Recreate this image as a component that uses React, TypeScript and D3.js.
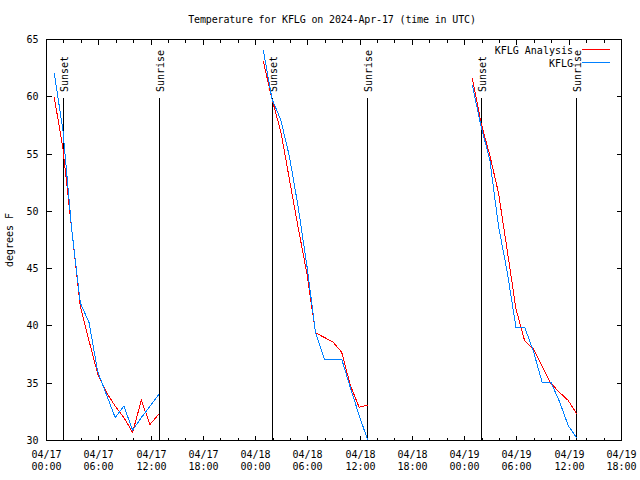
import React from "react";
import * as d3 from "d3";

const TITLE = "Temperature for KFLG on 2024-Apr-17 (time in UTC)";
const Y_LABEL = "degrees F";
const SERIES_NAMES = ["KFLG Analysis", "KFLG"];
const SERIES_COLORS = ["#ff0000", "#0080ff"];

const Y_TICKS = [30, 35, 40, 45, 50, 55, 60, 65];

const TIMES_DAY1 = [
  "2024-04-17 00:53", "2024-04-17 01:53", "2024-04-17 02:53", "2024-04-17 03:53",
  "2024-04-17 04:53", "2024-04-17 05:53", "2024-04-17 06:53", "2024-04-17 07:53",
  "2024-04-17 08:53", "2024-04-17 09:53", "2024-04-17 10:53", "2024-04-17 11:53",
  "2024-04-17 12:53",
];
const TIMES_DAY2 = [
  "2024-04-18 00:53", "2024-04-18 01:53", "2024-04-18 02:53", "2024-04-18 03:53",
  "2024-04-18 04:53", "2024-04-18 05:53", "2024-04-18 06:53", "2024-04-18 07:53",
  "2024-04-18 08:53", "2024-04-18 09:53", "2024-04-18 10:53", "2024-04-18 11:53",
  "2024-04-18 12:53",
];
const TIMES_DAY3 = [
  "2024-04-19 00:53", "2024-04-19 01:53", "2024-04-19 02:53", "2024-04-19 03:53",
  "2024-04-19 04:53", "2024-04-19 05:53", "2024-04-19 06:53", "2024-04-19 07:53",
  "2024-04-19 08:53", "2024-04-19 09:53", "2024-04-19 10:53", "2024-04-19 11:53",
  "2024-04-19 12:53",
];

const ANALYSIS_DAY1 = [60.0, 55.5, 48.5, 41.7, 38.7, 35.8, 34.2, 33.0, 32.0, 30.7, 33.5, 31.4, 32.3];
const ANALYSIS_DAY2 = [63.1, 59.8, 57.0, 52.8, 48.6, 44.6, 39.4, 39.0, 38.6, 37.7, 34.8, 32.9, 33.1];
const ANALYSIS_DAY3 = [61.6, 57.7, 54.9, 51.6, 46.6, 41.5, 38.7, 38.0, 36.5, 35.0, 34.2, 33.5, 32.3];

const OBS_DAY1 = [62.1, 57.1, 48.5, 42.0, 40.3, 36.0, 34.0, 32.0, 33.0, 30.9, 32.0, 33.0, 34.0];
const OBS_DAY2 = [64.1, 59.8, 58.0, 54.8, 50.4, 45.3, 39.4, 37.1, 37.1, 37.1, 34.6, 32.2, 30.0];
const OBS_DAY3 = [61.0, 57.4, 54.5, 48.7, 44.7, 39.9, 39.9, 37.8, 35.1, 35.1, 33.4, 31.3, 30.2];

const SUN_EVENTS = [
  { label: "Sunset", time: "2024-04-17 01:57" },
  { label: "Sunrise", time: "2024-04-17 12:58" },
  { label: "Sunset", time: "2024-04-18 01:56" },
  { label: "Sunrise", time: "2024-04-18 12:51" },
  { label: "Sunset", time: "2024-04-19 01:56" },
  { label: "Sunrise", time: "2024-04-19 12:50" },
];

const X_START = "2024-04-17 00:00";
const X_END = "2024-04-19 18:00";

const parse = d3.utcParse("%Y-%m-%d %H:%M");
const FONT = "'DejaVu Sans Mono', monospace";

export default function App() {
  const left = 46.5, right = 621.5, top = 39.5, bottom = 440.5;
  const x = d3.scaleUtc().domain([parse(X_START)!, parse(X_END)!]).range([left, right]);
  const y = d3.scaleLinear().domain([30, 65]).range([bottom, top]);

  const line = d3
    .line<[Date, number]>()
    .x((d) => x(d[0]))
    .y((d) => y(d[1]));

  const mk = (times: string[], vals: number[]) =>
    times.map((t, i) => [parse(t)!, vals[i]] as [Date, number]);

  const analysis = [
    mk(TIMES_DAY1, ANALYSIS_DAY1),
    mk(TIMES_DAY2, ANALYSIS_DAY2),
    mk(TIMES_DAY3, ANALYSIS_DAY3),
  ];
  const obs = [mk(TIMES_DAY1, OBS_DAY1), mk(TIMES_DAY2, OBS_DAY2), mk(TIMES_DAY3, OBS_DAY3)];

  const majorTicks = d3.utcHour.every(6)!.range(parse(X_START)!, d3.utcMinute.offset(parse(X_END)!, 1));
  const minorTicks = d3.utcHour.every(2)!.range(parse(X_START)!, d3.utcMinute.offset(parse(X_END)!, 1))
    .filter((d) => d.getUTCHours() % 6 !== 0);
  const fmtDate = d3.utcFormat("%m/%d");
  const fmtTime = d3.utcFormat("%H:%M");
  const TL = 5;
  const TLm = 3;
  const snap = (v: number) => Math.floor(v) + 0.5;

  return (
    <svg
      width={640}
      height={480}
      style={{ position: "absolute", left: 0, top: 0, background: "#fff" }}
      fontFamily={FONT}
      fontSize={10}
    >
      <rect x={0} y={0} width={640} height={480} fill="#fff" />
      <text x={332} y={23} textAnchor="middle" fill="#000" letterSpacing={-0.15}>{TITLE}</text>

      {/* y ticks */}
      {Y_TICKS.map((v) => {
        const yy = snap(y(v));
        return (
          <g key={v} shapeRendering="crispEdges">
            <line x1={left} x2={left + TL} y1={yy} y2={yy} stroke="#000" />
            <line x1={right - TL} x2={right} y1={yy} y2={yy} stroke="#000" />
            <text x={38.5} y={yy} textAnchor="end" dominantBaseline="central" fill="#000">{v}</text>
          </g>
        );
      })}

      {/* x ticks */}
      {majorTicks.map((d, i) => {
        const xx = snap(x(d));
        return (
          <g key={"M" + i} shapeRendering="crispEdges">
            <line x1={xx} x2={xx} y1={bottom} y2={bottom - TL} stroke="#000" />
            <line x1={xx} x2={xx} y1={top} y2={top + TL} stroke="#000" />
            <text x={xx} y={454} textAnchor="middle" dominantBaseline="central" fill="#000">{fmtDate(d)}</text>
            <text x={xx} y={466} textAnchor="middle" dominantBaseline="central" fill="#000">{fmtTime(d)}</text>
          </g>
        );
      })}
      {minorTicks.map((d, i) => {
        const xx = snap(x(d));
        return (
          <g key={"m" + i} shapeRendering="crispEdges">
            <line x1={xx} x2={xx} y1={bottom} y2={bottom - TLm} stroke="#000" />
            <line x1={xx} x2={xx} y1={top} y2={top + TLm} stroke="#000" />
          </g>
        );
      })}

      {/* y label */}
      <text transform="translate(13,240) rotate(-90)" textAnchor="middle" fill="#000">{Y_LABEL}</text>

      {/* sun events */}
      {SUN_EVENTS.map((s, i) => {
        const xx = snap(x(parse(s.time)!));
        return (
          <g key={"s" + i}>
            <line x1={xx} x2={xx} y1={98} y2={bottom} stroke="#000" shapeRendering="crispEdges" />
            <text transform={`translate(${xx},92) rotate(-90)`} x={0} y={4.5} textAnchor="start" fill="#000">
              {s.label}
            </text>
          </g>
        );
      })}

      {/* data */}
      {analysis.map((d, i) => (
        <path key={"a" + i} d={line(d)!} fill="none" stroke={SERIES_COLORS[0]} strokeWidth={1} shapeRendering="crispEdges" />
      ))}
      {obs.map((d, i) => (
        <path key={"o" + i} d={line(d)!} fill="none" stroke={SERIES_COLORS[1]} strokeWidth={1} shapeRendering="crispEdges" />
      ))}

      {/* legend */}
      {SERIES_NAMES.map((n, i) => {
        const ly = 49.5 + i * 13;
        return (
          <g key={"l" + i}>
            <text x={573} y={ly + 0.5} textAnchor="end" dominantBaseline="central" fill="#000">{n}</text>
            <line x1={582} x2={610} y1={ly} y2={ly} stroke={SERIES_COLORS[i]} shapeRendering="crispEdges" />
          </g>
        );
      })}

      {/* border */}
      <rect x={left} y={top} width={right - left} height={bottom - top} fill="none" stroke="#000" shapeRendering="crispEdges" />
    </svg>
  );
}
